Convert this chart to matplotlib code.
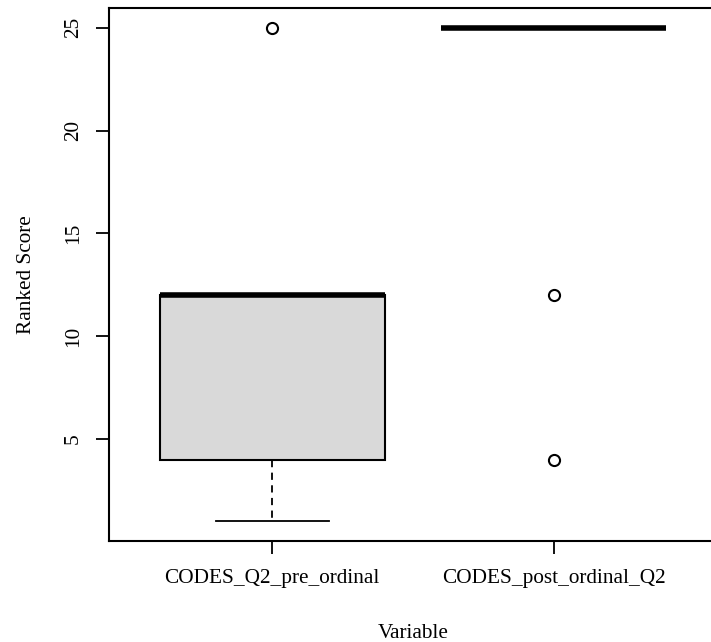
import matplotlib
matplotlib.use("Agg")
import matplotlib.pyplot as plt

labels = ["CODES_Q2_pre_ordinal", "CODES_post_ordinal_Q2"]
whislo = [1, 25]
q1 = [4, 25]
med = [12, 25]
q3 = [12, 25]
whishi = [12, 25]
fliers = [[25], [12, 4]]

plt.rcParams['font.family'] = ['Liberation Serif', 'DejaVu Serif']

stats = []
for i in range(len(labels)):
    stats.append(dict(label=labels[i], whislo=whislo[i], q1=q1[i], med=med[i],
                      q3=q3[i], whishi=whishi[i], fliers=fliers[i]))

fig = plt.figure(figsize=(7.11, 6.42), dpi=100)
ax = fig.add_axes([109 / 711, 101 / 642, 608 / 711, 533 / 642])

ax.bxp(stats, positions=[1, 2], widths=0.8, patch_artist=True,
       boxprops=dict(facecolor='#d9d9d9', edgecolor='black', linewidth=1.5),
       medianprops=dict(color='black', linewidth=4, solid_capstyle='butt'),
       whiskerprops=dict(color='black', linewidth=1.3, linestyle=(0, (4, 3))),
       capprops=dict(color='black', linewidth=1.3),
       capwidths=0.4,
       flierprops=dict(marker='o', markerfacecolor='none', markeredgecolor='black',
                       markersize=8, markeredgewidth=1.5))

fs = 15.3
ax.set_xlim(0.42, 2.58)
ax.set_ylim(0.04, 25.96)
ax.set_xticks([1, 2])
ax.set_xticklabels(labels, fontsize=fs)
ax.set_yticks([5, 10, 15, 20, 25])
ax.set_yticklabels(['5', '10', '15', '20', '25'], fontsize=fs, rotation=90, va='center')
ax.tick_params(length=9.4, width=1.3)
ax.tick_params(axis='x', pad=11)
ax.tick_params(axis='y', pad=9.5)
for s in ax.spines.values():
    s.set_linewidth(1.5)

ax.set_xlabel('Variable', fontsize=fs, labelpad=26)
ax.set_ylabel('Ranked Score', fontsize=fs, labelpad=20)

fig.savefig('out.png', dpi=100)
